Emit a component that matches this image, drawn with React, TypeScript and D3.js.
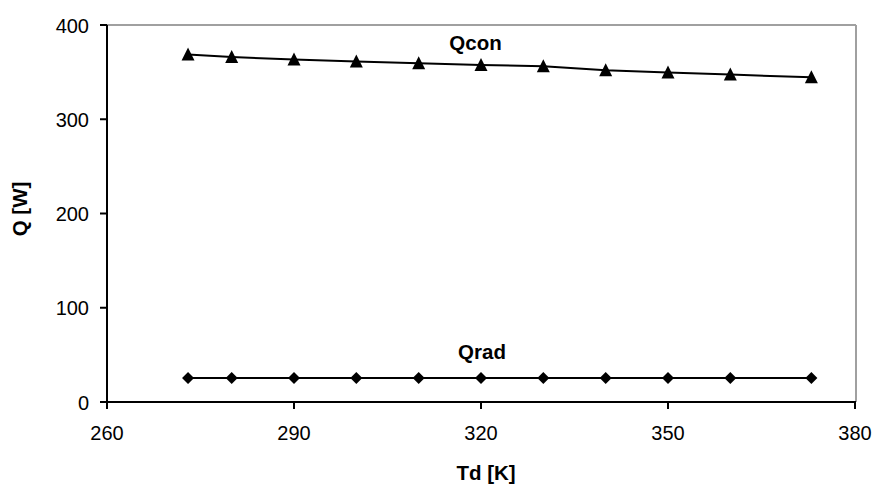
import React from "react";
import * as d3 from "d3";

const tdValues = [273, 280, 290, 300, 310, 320, 330, 340, 350, 360, 373];
const qconValues = [368.6, 366.0, 363.3, 361.2, 359.4, 357.6, 356.2, 352.0, 349.5, 347.4, 344.5];
const qradValues = [25.5, 25.5, 25.5, 25.5, 25.5, 25.5, 25.5, 25.5, 25.5, 25.5, 25.5];
const xTicks = [260, 290, 320, 350, 380];
const yTicks = [0, 100, 200, 300, 400];

const W = 874;
const H = 486;
const plot = { left: 107, right: 856, top: 25, bottom: 402 };

export default function App() {
  const x = d3.scaleLinear().domain([260, 380]).range([plot.left, plot.right - 1]);
  const y = d3.scaleLinear().domain([0, 400]).range([plot.bottom, plot.top]);
  const font = "'Liberation Sans', Arial, sans-serif";

  const line = d3
    .line<[number, number]>()
    .x((d) => x(d[0]))
    .y((d) => y(d[1]));

  const qcon: [number, number][] = tdValues.map((t, i) => [t, qconValues[i]]);
  const qrad: [number, number][] = tdValues.map((t, i) => [t, qradValues[i]]);

  const tri = (cx: number, cy: number) =>
    `M${cx},${cy - 7} L${cx + 6.5},${cy + 6} L${cx - 6.5},${cy + 6} Z`;
  const dia = (cx: number, cy: number) =>
    `M${cx},${cy - 6} L${cx + 6},${cy} L${cx},${cy + 6} L${cx - 6},${cy} Z`;

  return (
    <div style={{ position: "absolute", left: 0, top: 0 }}>
      <svg width={W} height={H} style={{ display: "block", background: "#fff" }}>
        {/* frame top/right */}
        <line x1={plot.left} x2={plot.right} y1={plot.top} y2={plot.top} stroke="#a0a0a0" strokeWidth={2} />
        <line x1={plot.right} x2={plot.right} y1={plot.top} y2={plot.bottom} stroke="#a0a0a0" strokeWidth={2} />
        {/* axes */}
        <line x1={plot.left} x2={plot.left} y1={plot.top} y2={plot.bottom} stroke="#000" strokeWidth={2} />
        <line x1={plot.left} x2={plot.right} y1={plot.bottom} y2={plot.bottom} stroke="#000" strokeWidth={2} />
        {yTicks.map((t) => (
          <g key={"y" + t}>
            <line x1={plot.left - 7} x2={plot.left} y1={y(t)} y2={y(t)} stroke="#000" strokeWidth={2} />
            <text x={89} y={y(t) + 7.5} textAnchor="end" fontFamily={font} fontSize={20} fill="#000">
              {t}
            </text>
          </g>
        ))}
        {xTicks.map((t) => (
          <g key={"x" + t}>
            <line x1={x(t)} x2={x(t)} y1={plot.bottom} y2={plot.bottom + 7} stroke="#000" strokeWidth={2} />
            <text x={x(t)} y={440} textAnchor="middle" fontFamily={font} fontSize={20} fill="#000">
              {t}
            </text>
          </g>
        ))}
        <text
          x={486}
          y={479.5}
          textAnchor="middle"
          fontFamily={font}
          fontSize={20.5}
          fontWeight="bold"
          fill="#000"
        >
          Td [K]
        </text>
        <text
          transform={`translate(27,209) rotate(-90)`}
          textAnchor="middle"
          fontFamily={font}
          fontSize={20.5}
          fontWeight="bold"
          fill="#000"
        >
          Q [W]
        </text>
        <path d={line(qcon) || ""} fill="none" stroke="#000" strokeWidth={2} />
        <path d={line(qrad) || ""} fill="none" stroke="#000" strokeWidth={2} />
        {qcon.map((d, i) => (
          <path key={"c" + i} d={tri(x(d[0]), y(d[1]))} fill="#000" />
        ))}
        {qrad.map((d, i) => (
          <path key={"r" + i} d={dia(x(d[0]), y(d[1]))} fill="#000" />
        ))}
        <text x={475.5} y={49.5} textAnchor="middle" fontFamily={font} fontSize={20.5} fontWeight="bold" fill="#000">
          Qcon
        </text>
        <text x={482} y={359} textAnchor="middle" fontFamily={font} fontSize={20.5} fontWeight="bold" fill="#000">
          Qrad
        </text>
      </svg>
    </div>
  );
}
